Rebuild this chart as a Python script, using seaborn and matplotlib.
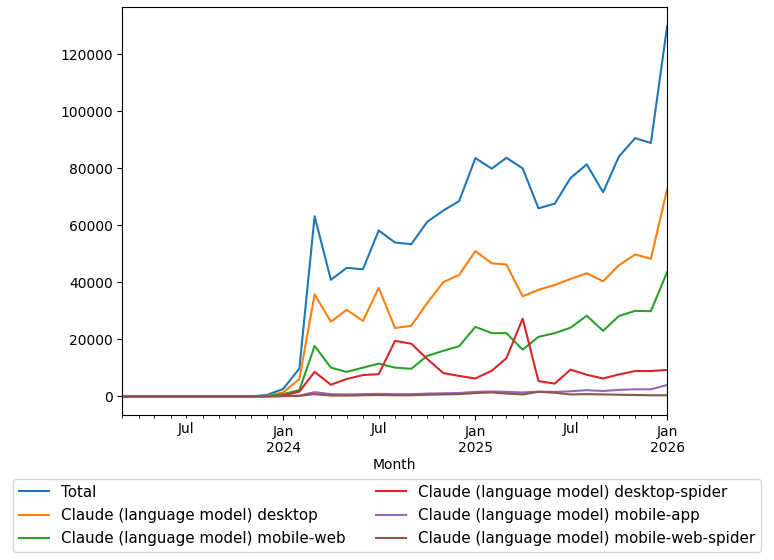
import pandas as pd
import numpy as np
import seaborn as sns
import matplotlib.pyplot as plt
import matplotlib.dates as mdates
from matplotlib.ticker import FixedLocator, FixedFormatter

# monthly page views, Mar 2023 .. Jan 2026
months = pd.date_range('2023-03-01', '2026-01-01', freq='MS')
zeros = [0] * 9  # Mar..Nov 2023

total = zeros + [500, 2600, 9800, 63200, 40900, 45100, 44600, 58200, 54000, 53400, 61200, 65200, 68500,
                 83600, 79900, 83700, 80000, 66000, 67600, 76600, 81400, 71600, 84100, 90600, 88900, 130000]
desktop = zeros + [200, 1400, 6100, 35800, 26200, 30400, 26500, 38100, 24000, 24800, 32700, 40100, 42600,
                   51000, 46700, 46300, 35100, 37400, 39100, 41200, 43200, 40400, 46000, 49800, 48300, 72800]
mobile_web = zeros + [100, 800, 2200, 17700, 10100, 8600, 10100, 11500, 10100, 9700, 14200, 16000, 17600,
                      24400, 22200, 22200, 16400, 20900, 22200, 24100, 28300, 23000, 28200, 30000, 29900, 43700]
desktop_spider = zeros + [100, 300, 1700, 8600, 4100, 6100, 7500, 7800, 19500, 18500, 13200, 8200, 7200,
                          6300, 9000, 13400, 27300, 5400, 4500, 9400, 7600, 6300, 7700, 8900, 8900, 9300]
mobile_app = zeros + [0, 100, 300, 1500, 800, 700, 800, 900, 800, 800, 1000, 1100, 1200,
                      1600, 1700, 1600, 1400, 1700, 1600, 1800, 2200, 1900, 2300, 2500, 2500, 4000]
mobile_web_spider = zeros + [0, 100, 200, 800, 300, 300, 400, 500, 400, 400, 600, 700, 800,
                             1200, 1400, 1000, 700, 1600, 1300, 700, 800, 700, 600, 500, 400, 400]

series = {
    'Total': total,
    'Claude (language model) desktop': desktop,
    'Claude (language model) mobile-web': mobile_web,
    'Claude (language model) desktop-spider': desktop_spider,
    'Claude (language model) mobile-app': mobile_app,
    'Claude (language model) mobile-web-spider': mobile_web_spider,
}

colors = sns.color_palette('tab10', len(series))

fig, ax = plt.subplots(figsize=(7.74, 5.6), dpi=100)
fig.subplots_adjust(left=0.158, right=0.862, top=0.987, bottom=0.259)

for (name, vals), c in zip(series.items(), colors):
    df = pd.DataFrame({'Month': months, 'views': vals})
    sns.lineplot(data=df, x='Month', y='views', ax=ax, color=c, label=name, linewidth=1.5, legend=False)

ax.set_xlim(months[0], months[-1])
ax.set_ylabel('')
ax.set_xlabel('Month', labelpad=2)

# pandas-like period axis: Jan major ticks with year, Jul labels on minor ticks
major = [d for d in months if d.month == 1]
minor = [d for d in months if d.month != 1]
ax.xaxis.set_major_locator(FixedLocator(mdates.date2num(major)))
ax.xaxis.set_major_formatter(FixedFormatter([f'Jan\n{d.year}' for d in major]))
ax.xaxis.set_minor_locator(FixedLocator(mdates.date2num(minor)))
ax.xaxis.set_minor_formatter(FixedFormatter(['Jul' if d.month == 7 else '' for d in minor]))

handles, labels = ax.get_legend_handles_labels()
fig.legend(handles, labels, loc='upper center', bbox_to_anchor=(0.5, 0.159), ncol=2,
           frameon=True, fontsize=10.9, labelspacing=0.55, columnspacing=2.0)

fig.savefig('out.png', dpi=100)
